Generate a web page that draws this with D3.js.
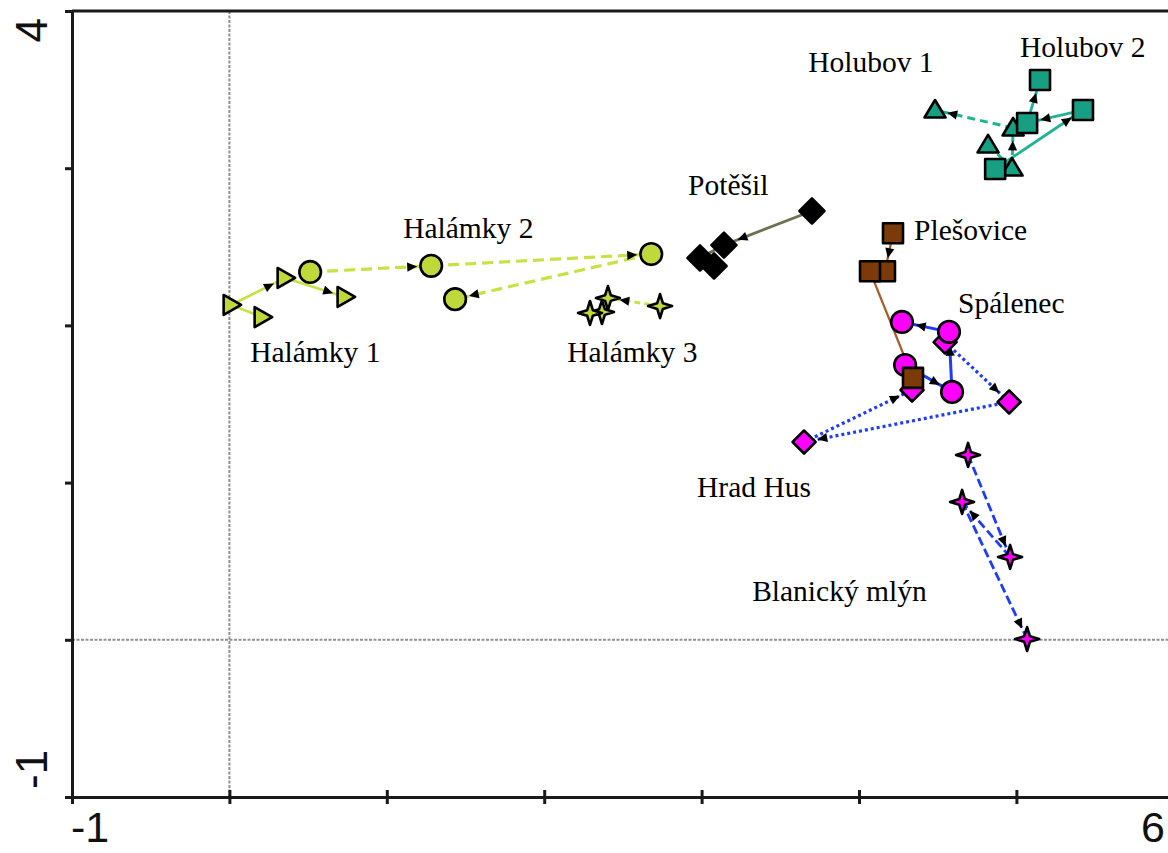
<!DOCTYPE html>
<html>
<head>
<meta charset="utf-8">
<script src="https://cdn.jsdelivr.net/npm/d3@7"></script>
<style>
  html, body { margin: 0; padding: 0; background: #ffffff; }
  svg { display: block; }
</style>
</head>
<body>
<svg id="chart" width="1168" height="853"></svg>
<script>
// Ordination scores (axis 1, axis 2) of the four samplings at each site
const halamky1     = [[0.011, 2.130], [0.208, 2.053], [0.354, 2.302], [0.735, 2.181]];
const halamky2     = [[0.513, 2.340], [1.282, 2.379], [2.680, 2.454], [1.434, 2.167]];
const halamky3     = [[2.736, 2.123], [2.405, 2.174], [2.367, 2.085], [2.291, 2.079]];
const potesil      = [[3.701, 2.728], [3.142, 2.511], [2.990, 2.429], [3.079, 2.378]];
const holubov1     = [[4.820, 3.148], [4.972, 3.001], [4.979, 3.256], [4.483, 3.370]];
const holubov2     = [[4.865, 2.995], [5.423, 3.370], [5.068, 3.288], [5.150, 3.561]];
const plesovice    = [[4.216, 2.586], [4.165, 2.344], [4.070, 2.344], [4.343, 1.666]];
const spalenec     = [[4.293, 1.748], [4.591, 1.577], [4.572, 1.959], [4.273, 2.022]];
const hradHus      = [[4.547, 1.894], [4.954, 1.513], [3.651, 1.258], [4.337, 1.589]];
const blanickyMlyn = [[4.693, 1.176], [4.960, 0.527], [4.655, 0.877], [5.068, 0.005]];

// Steps between samplings (from index -> to index)
const chainSteps     = [[0, 1], [1, 2], [2, 3]];
const halamky1Steps  = [[0, 1], [0, 2], [2, 3]];

// Axis ticks and the labelled extremes
const xTicks = [-1, 0, 1, 2, 3, 4, 5, 6];
const yTicks = [-1, 0, 1, 2, 3, 4];
const xTickLabels = ["-1", "6"];
const yTickLabels = ["-1", "4"];

const siteNames = ["Halámky 1", "Halámky 2", "Halámky 3", "Potěšil", "Holubov 1",
                   "Holubov 2", "Plešovice", "Spálenec", "Hrad Hus", "Blanický mlýn"];

// ---- layout & styling ----
const svg = d3.select("#chart");
const x = d3.scaleLinear().domain([-1, 6]).range([72, 1173.8]);
const y = d3.scaleLinear().domain([-1, 4]).range([797, 11]);

const GREEN = "#bfd83a", GREEN_LINE = "#c9e142";
const TEAL = "#179f84", TEAL_LINE = "#22b394";
const BROWN = "#7b3a08", BROWN_LINE = "#a65c2c";
const MAGENTA = "#ff00ff", BLUE = "#1d3cff";

const sites = [
  { name: siteNames[0], pts: halamky1, steps: halamky1Steps, shape: "triRight", fill: GREEN, line: GREEN_LINE, width: 2.6, dash: null,    label: [0.132, 1.767] },
  { name: siteNames[1], pts: halamky2, steps: chainSteps, shape: "circle",   fill: GREEN, line: GREEN_LINE, width: 3.2, dash: "11,6",  label: [1.104, 2.557] },
  { name: siteNames[2], pts: halamky3, steps: chainSteps, shape: "star",     fill: GREEN, line: GREEN_LINE, width: 3,   dash: "6,4",   label: [2.146, 1.767] },
  { name: siteNames[3], pts: potesil,  steps: chainSteps, shape: "diamondBig", fill: "#000", line: "#6f6f52", width: 2.8, dash: null, label: [2.914, 2.829] },
  { name: siteNames[4], pts: holubov1, steps: chainSteps, shape: "triUp",    fill: TEAL, line: TEAL_LINE, width: 3,   dash: "8,5",    label: [3.677, 3.612] },
  { name: siteNames[5], pts: holubov2, steps: chainSteps, shape: "square",   fill: TEAL, line: TEAL_LINE, width: 2.8, dash: null,     label: [5.023, 3.708] },
  { name: siteNames[8], pts: hradHus,  steps: chainSteps, shape: "diamond",  fill: MAGENTA, line: BLUE, width: 3.2, dash: "3,3",      label: [2.971, 0.908] },
  { name: siteNames[7], pts: spalenec, steps: chainSteps, shape: "circle",   fill: MAGENTA, line: BLUE, width: 3, dash: null,         label: [4.629, 2.079] },
  { name: siteNames[6], pts: plesovice, steps: chainSteps, shape: "square",  fill: BROWN, line: BROWN_LINE, width: 2.3, dash: null,   label: [4.350, 2.544] },
  { name: siteNames[9], pts: blanickyMlyn, steps: chainSteps, shape: "star", fill: MAGENTA, line: BLUE, width: 2.8, dash: "9,4",      label: [3.321, 0.246] }
];

// marker outlines centred on the origin
const starPath = (outer, inner) => {
  const pts = [];
  for (let i = 0; i < 8; i++) {
    const a = -Math.PI / 2 + i * Math.PI / 4;
    const rr = i % 2 === 0 ? outer : inner;
    pts.push([rr * Math.cos(a), rr * Math.sin(a)]);
  }
  return "M" + pts.map(p => p[0].toFixed(2) + "," + p[1].toFixed(2)).join("L") + "Z";
};
const shapes = {
  triRight:  { r: 9.5, d: "M-7.5,-10L10,0L-7.5,10Z" },
  triUp:     { r: 9.5, d: "M0,-10L10.5,7.5L-10.5,7.5Z" },
  circle:    { r: 11,  d: "M10.8,0A10.8,10.8 0 1,1 -10.8,0A10.8,10.8 0 1,1 10.8,0Z" },
  square:    { r: 10.5, d: "M-10,-10h20v20h-20Z" },
  diamond:   { r: 10.5, d: "M0,-11.5L11.5,0L0,11.5L-11.5,0Z" },
  diamondBig:{ r: 11.5, d: "M0,-12.5L12.5,0L0,12.5L-12.5,0Z" },
  star:      { r: 8.5, d: starPath(12, 4) }
};

// ---- axes frame ----
const frame = svg.append("g");

// zero reference lines
frame.append("line")
  .attr("x1", x(0)).attr("x2", x(0)).attr("y1", y(4)).attr("y2", y(-1))
  .attr("stroke", "#8f8f8f").attr("stroke-width", 2).attr("stroke-dasharray", "3,1.5");
frame.append("line")
  .attr("x1", x(-1)).attr("x2", x(6)).attr("y1", y(0)).attr("y2", y(0))
  .attr("stroke", "#8f8f8f").attr("stroke-width", 2).attr("stroke-dasharray", "3,1.5");

const xAxis = frame.append("g")
  .attr("transform", `translate(0,${y(-1)})`)
  .call(d3.axisBottom(x).tickValues(xTicks).tickFormat("").tickSizeOuter(0).tickSizeInner(7));
const yAxis = frame.append("g")
  .attr("transform", `translate(${x(-1)},0)`)
  .call(d3.axisLeft(y).tickValues(yTicks).tickFormat("").tickSizeOuter(0).tickSizeInner(7));

[xAxis, yAxis].forEach(g => {
  g.select(".domain").attr("stroke", "#1a1a1a").attr("stroke-width", 3);
  g.selectAll(".tick line").attr("stroke", "#1a1a1a").attr("stroke-width", 3);
});
xAxis.selectAll(".tick line").attr("y1", -7).attr("y2", 7);
yAxis.selectAll(".tick line").attr("x1", -7).attr("x2", 0);

// top border
frame.append("line")
  .attr("x1", x(-1)).attr("x2", x(6)).attr("y1", y(4)).attr("y2", y(4))
  .attr("stroke", "#1a1a1a").attr("stroke-width", 3);

// extreme tick labels
const tickFont = "'Liberation Sans', Arial, sans-serif";
frame.append("text").text(xTickLabels[0])
  .attr("x", x(-1) - 1).attr("y", 842).attr("text-anchor", "start")
  .attr("font-family", tickFont).attr("font-size", 43).attr("fill", "#111");
frame.append("text").text(xTickLabels[1])
  .attr("x", 1165).attr("y", 842).attr("text-anchor", "end")
  .attr("font-family", tickFont).attr("font-size", 43).attr("fill", "#111");
frame.append("text").text(yTickLabels[0])
  .attr("transform", `translate(47,${y(-1) - 8}) rotate(-90)`).attr("text-anchor", "start")
  .attr("font-family", tickFont).attr("font-size", 44).attr("fill", "#111");
frame.append("text").text(yTickLabels[1])
  .attr("transform", `translate(47,${y(4) + 7}) rotate(-90)`).attr("text-anchor", "end")
  .attr("font-family", tickFont).attr("font-size", 44).attr("fill", "#111");

// ---- trajectories ----
const lineLayer = svg.append("g");
const arrowLayer = svg.append("g");
const markerLayer = svg.append("g");
const labelLayer = svg.append("g");

sites.forEach(site => {
  const shp = shapes[site.shape];
  site.steps.forEach(([a, b]) => {
    const p = site.pts[a], q = site.pts[b];
    const x1 = x(p[0]), y1 = y(p[1]), x2 = x(q[0]), y2 = y(q[1]);
    lineLayer.append("line")
      .attr("x1", x1).attr("y1", y1).attr("x2", x2).attr("y2", y2)
      .attr("stroke", site.line).attr("stroke-width", site.width)
      .attr("stroke-dasharray", site.dash);

    // arrowhead just short of the target marker, skipped where markers overlap
    const len = Math.hypot(x2 - x1, y2 - y1);
    if (len > 2 * shp.r + 16) {
      const ux = (x2 - x1) / len, uy = (y2 - y1) / len;
      const tip = shp.r + 3;
      const tx = x2 - ux * tip, ty = y2 - uy * tip;
      const L = 10, W = 4.6;
      const bx = tx - ux * L, by = ty - uy * L;
      arrowLayer.append("path")
        .attr("d", `M${tx},${ty}L${bx - uy * W},${by + ux * W}L${bx + uy * W},${by - ux * W}Z`)
        .attr("fill", "#000");
    }
  });
});

sites.forEach(site => {
  const shp = shapes[site.shape];
  markerLayer.selectAll(null)
    .data(site.pts)
    .enter().append("path")
    .attr("d", shp.d)
    .attr("transform", d => `translate(${x(d[0])},${y(d[1])})`)
    .attr("fill", site.fill)
    .attr("stroke", "#000")
    .attr("stroke-width", 2.6)
    .attr("stroke-linejoin", "round");
});

// site names
labelLayer.selectAll("text")
  .data(sites)
  .enter().append("text")
  .attr("x", d => x(d.label[0]))
  .attr("y", d => y(d.label[1]))
  .attr("font-family", "'Liberation Serif', 'Times New Roman', serif")
  .attr("font-size", 29.5)
  .attr("fill", "#000")
  .text(d => d.name);
</script>
</body>
</html>
